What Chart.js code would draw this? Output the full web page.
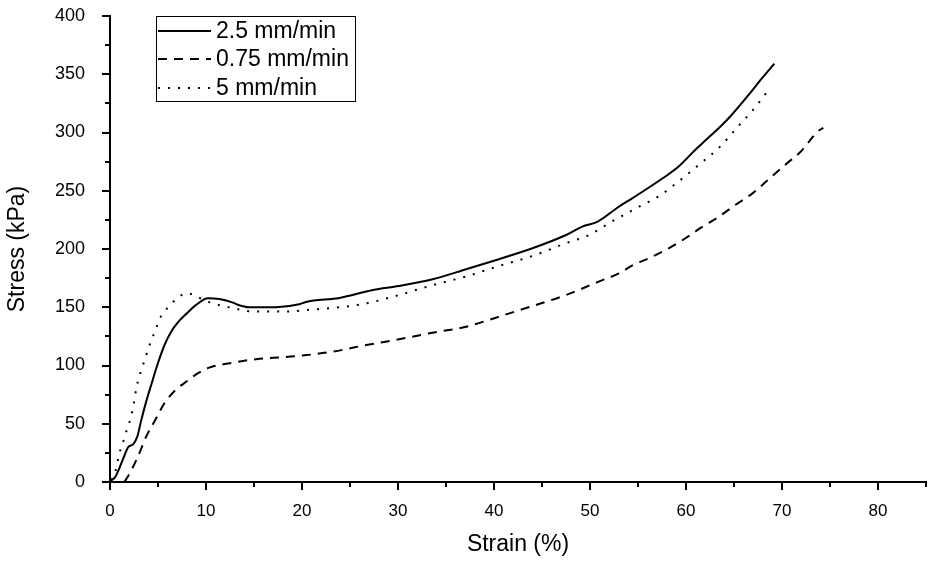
<!DOCTYPE html>
<html>
<head>
<meta charset="utf-8">
<script src="https://cdn.jsdelivr.net/npm/chart.js@4"></script>
<style>
  html, body { margin: 0; padding: 0; background: #fff; }
  #wrap { width: 932px; height: 562px; }
</style>
</head>
<body>
<div id="wrap"><canvas id="c" width="932" height="562"></canvas></div>
<script>
// ---- data ----
const seriesLabels = ["2.5 mm/min", "0.75 mm/min", "5 mm/min"];

const strain25 = [0.07,0.49,1.0,1.35,1.94,2.4,2.84,3.26,3.77,4.29,4.99,5.68,6.37,7.07,8.1,8.97,10.2,11.4,12.8,13.2,14.5,17.3,19.7,20.4,23.9,27.4,30.1,33.6,37.1,40.5,44.0,47.5,49.2,50.8,53.0,54.4,57.8,59.2,60.95,61.6,63.7,64.75,66.5,67.9,69.2];
const stress25 = [1,3.7,12.3,19.7,30.3,32.3,38.9,53.2,69,83.3,101.9,117.6,129,137,145.5,152,157.7,157,154,152.5,150,150,152.5,154.5,158,164.8,168.2,174,182.6,191.2,200.6,212,219.2,223.5,236.3,243.5,262,270.6,285,290,306,315,332,346.4,359];

const strain075 = [1.5,2.05,2.9,3.8,4.7,5.7,6.9,8.1,8.97,10.4,12.5,15.2,19.4,23.2,26.7,30.1,33.6,37.1,40.5,44.0,47.5,50.9,53.0,54.5,56.4,58.2,59.9,61.6,63.4,65.1,67.0,68.7,70.5,72.0,73.7,74.3];
const stress075 = [0,7.4,21.7,39.5,53,68,79.5,87,92.4,98.4,102,105.4,108,111.9,117.6,122.5,128.2,133.3,141.9,151,160.5,172,179,186.3,193,200.6,209,218.5,227.6,237.6,248.2,260.5,273.4,284,300.7,304];

const strain5 = [0.17,0.55,0.83,1.1,1.45,1.8,2.15,2.5,2.74,3.26,3.67,4.0,4.8,5.2,5.95,6.9,8.0,9.0,10.0,11.1,12.1,15.2,18.7,20.4,23.9,26.7,30.1,33.6,37.1,40.5,44.0,47.5,49.9,51.95,55.1,57.1,59.2,61.3,63.4,65.3,67.2,68.8];
const stress5 = [1.7,8.8,19,28,36.6,46,54.7,68,80.4,96,106,114.7,131.9,140.5,149,157,162,159.5,155.3,152.5,150.5,146.3,146.3,147.6,150,153.3,160.5,169,176.4,185.4,194,205,212,222,236.3,244.9,257.8,272,286.7,304,321.6,338.7];

const xTicks = [0,10,20,30,40,50,60,70,80];
const yTicks = [0,50,100,150,200,250,300,350,400];
const xTitle = "Strain (%)";
const yTitle = "Stress (kPa)";

function pts(xs, ys) { return xs.map((x, i) => ({ x: x, y: ys[i] })); }

const FONT = "'Liberation Sans', Arial, sans-serif";

// minor/major ticks and legend drawn with the scales
const decor = {
  id: 'decor',
  afterDraw(chart) {
    const ctx = chart.ctx;
    const xs = chart.scales.x, ys = chart.scales.y;
    const ca = chart.chartArea;
    ctx.save();
    ctx.strokeStyle = '#000';
    ctx.lineWidth = 2;
    for (let v = 0; v <= 85; v += 5) {
      const px = Math.round(xs.getPixelForValue(v));
      const len = (v % 10 === 0) ? 8 : 5;
      ctx.beginPath(); ctx.moveTo(px, ca.bottom); ctx.lineTo(px, ca.bottom + len); ctx.stroke();
    }
    for (let v = 0; v <= 400; v += 25) {
      const py = Math.round(ys.getPixelForValue(v));
      const len = (v % 50 === 0) ? 8 : 5;
      ctx.beginPath(); ctx.moveTo(ca.left, py); ctx.lineTo(ca.left - len, py); ctx.stroke();
    }
    // legend
    const bx = 156.5, by = 16.5, bw = 199, bh = 85;
    ctx.lineWidth = 1;
    ctx.setLineDash([]);
    ctx.strokeRect(bx, by, bw, bh);
    const rowsY = [31, 59, 88];
    ctx.font = "23px " + FONT;
    ctx.fillStyle = '#000';
    ctx.textBaseline = 'middle';
    [0, 1, 2].forEach((di, k) => {
      const ds = chart.data.datasets[di];
      ctx.lineWidth = ds.borderWidth;
      ctx.setLineDash(ds.borderDash || []);
      ctx.beginPath(); ctx.moveTo(158, rowsY[k]); ctx.lineTo(211, rowsY[k]); ctx.stroke();
      ctx.setLineDash([]);
      ctx.fillText(ds.label, 216, rowsY[k] + 1);
    });
    ctx.restore();
  }
};

new Chart(document.getElementById('c'), {
  type: 'line',
  data: {
    datasets: [
      { label: seriesLabels[0], data: pts(strain25, stress25), borderColor: '#000', borderWidth: 2, borderDash: [], pointRadius: 0, fill: false, cubicInterpolationMode: 'monotone' },
      { label: seriesLabels[1], data: pts(strain075, stress075), borderColor: '#000', borderWidth: 2, borderDash: [9, 7], pointRadius: 0, fill: false, cubicInterpolationMode: 'monotone' },
      { label: seriesLabels[2], data: pts(strain5, stress5), borderColor: '#000', borderWidth: 2, borderDash: [2, 8], pointRadius: 0, fill: false, cubicInterpolationMode: 'monotone' }
    ]
  },
  options: {
    responsive: false,
    animation: false,
    devicePixelRatio: 1,
    layout: { padding: { left: 0, right: 6, top: 16, bottom: 0 } },
    plugins: { legend: { display: false }, tooltip: { enabled: false } },
    scales: {
      x: {
        type: 'linear', min: 0, max: 85,
        grid: { display: false },
        border: { display: true, color: '#000', width: 2 },
        afterBuildTicks(scale) { scale.ticks = xTicks.map(v => ({ value: v })); },
        afterFit(scale) { scale.height = 80; scale.paddingLeft = 0; scale.paddingRight = 0; },
        ticks: { color: '#000', padding: 11, maxRotation: 0, font: { family: FONT, size: 17 } },
        title: { display: true, text: xTitle, color: '#000', font: { family: FONT, size: 23 }, padding: { top: 4 } }
      },
      y: {
        type: 'linear', min: 0, max: 400,
        grid: { display: false },
        border: { display: true, color: '#000', width: 2 },
        afterBuildTicks(scale) { scale.ticks = yTicks.map(v => ({ value: v })); },
        afterFit(scale) { scale.width = 110; scale.paddingTop = 0; scale.paddingBottom = 0; },
        ticks: { color: '#000', padding: 17, font: { family: FONT, size: 18 } },
        title: { display: true, text: yTitle, color: '#000', font: { family: FONT, size: 23 }, padding: { bottom: 4 } }
      }
    }
  },
  plugins: [decor]
});
</script>
</body>
</html>
